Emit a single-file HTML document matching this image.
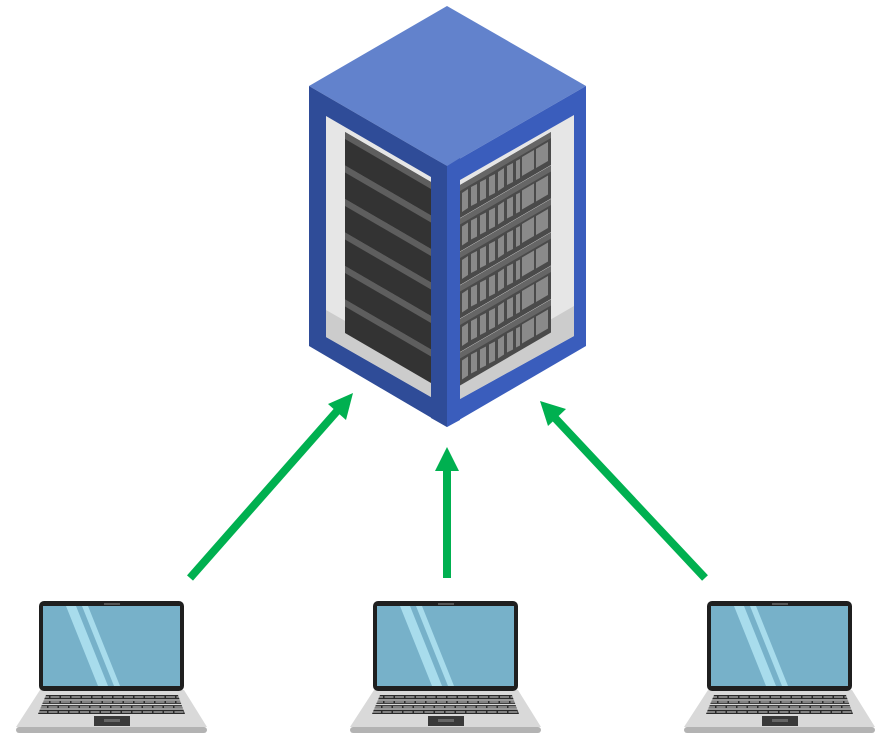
<!DOCTYPE html>
<html><head><meta charset="utf-8"><style>html,body{margin:0;padding:0;background:#fff}svg{display:block}</style></head>
<body>
<svg width="891" height="750" viewBox="0 0 891 750" xmlns="http://www.w3.org/2000/svg">
<defs>
<clipPath id="lc"><polygon points="326,116 431,177 431,397 326,337"/></clipPath>
<clipPath id="rc"><polygon points="460,180 574,115 574,336 460,399"/></clipPath>
<g id="lap">
  <polygon points="40,690 184,690 207,727 16,727" fill="#d9d9d9"/>
  <rect x="16" y="727" width="191" height="6" rx="3" fill="#b3b3b3"/>
  <rect x="39" y="601" width="145" height="90" rx="5" fill="#1f1f1f"/>
  <rect x="43" y="606" width="137" height="80" fill="#77b1c9"/>
  <polygon points="66,606 76,606 108,686 98,686" fill="#a8dcec"/>
  <polygon points="82,606 88,606 120,686 114,686" fill="#a8dcec"/>
  <rect x="104" y="603" width="16" height="2" fill="#555"/>
  <polygon points="46,695 178,695 185,714 38,714" fill="#2a2a2a"/>
  <g stroke="#d9d9d9" stroke-width="1.3">
    <line x1="40" y1="700" x2="183" y2="700"/><line x1="39" y1="704.5" x2="184" y2="704.5"/><line x1="38" y1="709" x2="185" y2="709"/>
  </g>
  <g stroke="#d9d9d9" stroke-width="1" stroke-dasharray="9 1.5">
    <line x1="40" y1="697" x2="184" y2="697"/><line x1="40" y1="702" x2="184" y2="702"/><line x1="38" y1="707" x2="186" y2="707"/><line x1="38" y1="712" x2="186" y2="712"/>
  </g>
  <rect x="94" y="716" width="36" height="10" fill="#3a3a3a"/>
  <rect x="104" y="719" width="16" height="3" fill="#666"/>
</g>
<g id="lb">
  <polygon points="345,132 431,182 431,215.5 345,165.5" fill="#333"/>
  <polygon points="345,132 431,182 431,189 345,139" fill="#5e5e5e"/>
</g>
<g id="rb">
  <polygon points="460,185 551,132 551,165 460,218" fill="#4a4a4a"/>
  <polygon points="460,185 551,132 551,138 460,191" fill="#666"/>
  <g fill="#8a8a8a">
    <polygon points="462,193 468,189 468,208 462,212"/>
    <polygon points="471,187 477,184 477,203 471,206"/>
    <polygon points="480,182 486,179 486,198 480,201"/>
    <polygon points="489,177 495,174 495,193 489,196"/>
    <polygon points="498,172 504,168 504,187 498,191"/>
    <polygon points="507,166 513,163 513,182 507,185"/>
    <polygon points="516,161 520,159 520,178 516,180"/>
    <polygon points="522,157 534,150 534,169 522,176"/>
    <polygon points="536,149 548,142 548,161 536,168"/>
  </g>
</g>
</defs>

<polygon points="447,6 586,86 447,166 309,86" fill="#6282cc"/>
<polygon points="309,86 447,166 447,427 309,346" fill="#2f4c98"/>
<polygon points="447,166 586,86 586,346 447,427" fill="#3a5dbc"/>

<polygon points="326,116 431,177 431,397 326,337" fill="#e6e6e6"/>
<g clip-path="url(#lc)">
  <polygon points="326,310 431,370 431,400 326,340" fill="#cccccc"/>
  <use href="#lb"/>
  <use href="#lb" y="33.5"/>
  <use href="#lb" y="67"/>
  <use href="#lb" y="100.5"/>
  <use href="#lb" y="134"/>
  <use href="#lb" y="167.5"/>
</g>

<polygon points="460,180 574,115 574,336 460,399" fill="#e6e6e6"/>
<g clip-path="url(#rc)">
  <polygon points="460,372 574,306 574,340 460,402" fill="#cccccc"/>
  <use href="#rb"/>
  <use href="#rb" y="33.5"/>
  <use href="#rb" y="67"/>
  <use href="#rb" y="100.5"/>
  <use href="#rb" y="134"/>
  <use href="#rb" y="167.5"/>
</g>

<polygon points="431,157 447,166 447,427 431,418" fill="#2f4c98"/>
<polygon points="447,166 460,158 460,420 447,427" fill="#3a5dbc"/>

<g stroke="#00b050" stroke-width="8" fill="none">
  <line x1="190" y1="578" x2="338" y2="410"/>
  <line x1="447" y1="578" x2="447" y2="466"/>
  <line x1="705" y1="578" x2="555" y2="418"/>
</g>
<g fill="#00b050">
  <polygon points="447,447 459,471 435,471"/>
  <polygon points="353,393 346,420 328,404"/>
  <polygon points="540,401 566,409 548,426"/>
</g>

<use href="#lap"/>
<use href="#lap" x="334"/>
<use href="#lap" x="668"/>
</svg>
</body></html>
